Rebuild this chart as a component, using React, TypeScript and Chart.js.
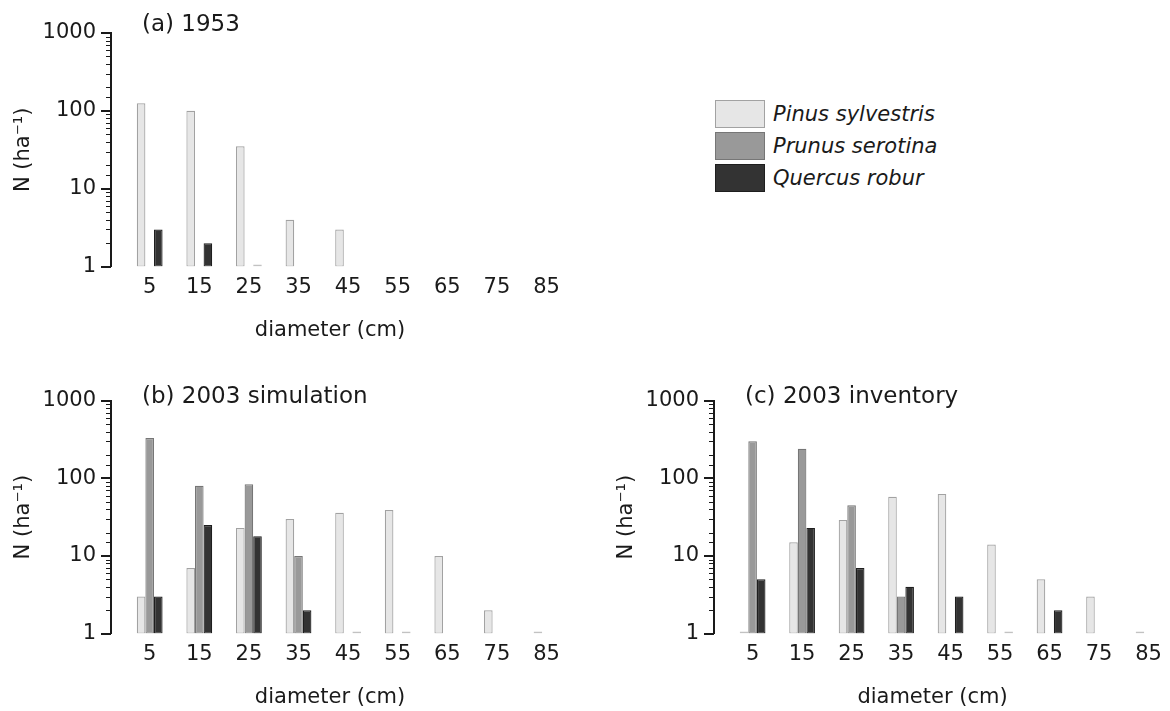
import React, { useEffect, useRef } from "react";
import { Chart, registerables } from "chart.js";

Chart.register(...registerables);

// ---------- data ----------
const diameters = [5, 15, 25, 35, 45, 55, 65, 75, 85];
const speciesNames = ["Pinus sylvestris", "Prunus serotina", "Quercus robur"];
const yTickLabels = [1, 10, 100, 1000];

const pinus1953 = [125, 100, 35, 4, 3, null, null, null, null];
const prunus1953 = [null, null, null, null, null, null, null, null, null];
const quercus1953 = [3, 2, 1, null, null, null, null, null, null];

const pinusSim2003 = [3, 7, 23, 30, 36, 39, 10, 2, 1];
const prunusSim2003 = [330, 80, 84, 10, null, null, null, null, null];
const quercusSim2003 = [3, 25, 18, 2, 1, 1, null, null, null];

const pinusInv2003 = [1, 15, 29, 58, 63, 14, 5, 3, 1];
const prunusInv2003 = [300, 240, 45, 3, null, null, null, null, null];
const quercusInv2003 = [5, 23, 7, 4, 3, 1, 2, null, null];

// ---------- styles ----------
const FONT = "DejaVu Sans";
const TEXT = "#1a1a1a";
const FILLS = ["#e6e6e6", "#999999", "#333333"];
const BORDERS = ["#a2a2a2", "#767676", "#1e1e1e"];
const ONE_LINE = "#c2c2c2";

Chart.defaults.font.family = FONT;
Chart.defaults.color = TEXT;

const isPow10 = (v: number) => {
  const l = Math.log10(v);
  return Math.abs(l - Math.round(l)) < 1e-9;
};

const yTickMarks = {
  id: "yTickMarks",
  afterDraw(chart: any) {
    const s = chart.scales.y;
    const ctx = chart.ctx;
    const x0 = chart.chartArea.left;
    ctx.save();
    ctx.strokeStyle = TEXT;
    s.ticks.forEach((t: any) => {
      const y = Math.round(s.getPixelForValue(t.value));
      const major = isPow10(t.value);
      ctx.lineWidth = major ? 2 : 1;
      ctx.beginPath();
      const yy = major ? y : y + 0.5;
      ctx.moveTo(x0 - (major ? 10 : 5), yy);
      ctx.lineTo(x0, yy);
      ctx.stroke();
    });
    ctx.restore();
  },
};

const makePanelTitle = (text: string, dy: number) => ({
  id: "panelTitle",
  afterDraw(chart: any) {
    const ctx = chart.ctx;
    ctx.save();
    ctx.font = `23px "${FONT}"`;
    ctx.fillStyle = TEXT;
    ctx.textAlign = "left";
    ctx.textBaseline = "middle";
    ctx.fillText(text, chart.chartArea.left + 31, chart.chartArea.top - dy);
    ctx.restore();
  },
});

type PanelProps = {
  title: string;
  series: (number | null)[][];
  left: number;
  top: number;
  width: number;
  height: number;
  padTop: number;
  padRight: number;
  titleDy: number;
};

function Panel({ title, series, left, top, width, height, padTop, padRight, titleDy }: PanelProps) {
  const ref = useRef<HTMLCanvasElement>(null);
  useEffect(() => {
    const canvas = ref.current!;
    const datasets = series.map((vals, k) => ({
      label: speciesNames[k],
      data: diameters.map((d, i) => ({ x: d, y: vals[i] })),
      backgroundColor: (c: any) => (c.raw && c.raw.y === 1 ? ONE_LINE : FILLS[k]),
      borderColor: (c: any) => (c.raw && c.raw.y === 1 ? ONE_LINE : BORDERS[k]),
      borderWidth: 1.2,
      borderSkipped: false,
      minBarLength: 2,
      barPercentage: 1,
      categoryPercentage: 0.52,
    }));
    const chart = new Chart(canvas, {
      type: "bar",
      data: { datasets } as any,
      options: {
        animation: false,
        responsive: false,
        devicePixelRatio: 1,
        layout: { padding: { top: padTop, right: padRight, left: 0, bottom: 0 } },
        plugins: {
          legend: { display: false },
          tooltip: { enabled: false },
          title: { display: false },
        },
        scales: {
          x: {
            type: "linear",
            min: -2.8,
            max: 85.5,
            offset: false,
            grid: { display: false, drawTicks: false },
            border: { display: false },
            afterBuildTicks: (s: any) => {
              s.ticks = diameters.map((v) => ({ value: v }));
            },
            ticks: {
              autoSkip: false,
              maxRotation: 0,
              padding: 8,
              font: { size: 21 },
              color: TEXT,
            },
            title: {
              display: true,
              text: "diameter (cm)",
              font: { size: 21 },
              color: TEXT,
              padding: { top: 10, bottom: 0 },
            },
          },
          y: {
            type: "logarithmic",
            min: 1,
            max: 1000,
            afterFit: (s: any) => {
              s.width = 111;
            },
            grid: { display: false, drawTicks: false },
            border: { display: true, color: TEXT, width: 2 },
            ticks: {
              autoSkip: false,
              padding: 15,
              font: { size: 21 },
              color: TEXT,
              callback: (v: any) => {
                const n = Number(v);
                return yTickLabels.some((t) => Math.abs(t - n) < 1e-6) ? String(Math.round(n)) : "";
              },
            },
            title: {
              display: true,
              text: "N (ha⁻¹)",
              font: { size: 21 },
              color: TEXT,
              padding: { top: 11.4, bottom: 0 },
            },
          },
        },
      } as any,
      plugins: [yTickMarks, makePanelTitle(title, titleDy)],
    });
    return () => chart.destroy();
  }, []);
  return (
    <canvas
      ref={ref}
      width={width}
      height={height}
      style={{ position: "absolute", left, top, width, height }}
    />
  );
}

function Legend() {
  return (
    <div style={{ position: "absolute", left: 715, top: 98 }}>
      {speciesNames.map((n, k) => (
        <div key={n} style={{ display: "flex", alignItems: "center", height: 32 }}>
          <div
            style={{
              width: 50,
              height: 28,
              boxSizing: "border-box",
              background: FILLS[k],
              border: `1px solid ${BORDERS[k]}`,
            }}
          />
          <span
            style={{
              marginLeft: 8,
              fontFamily: FONT,
              fontStyle: "italic",
              fontSize: 21,
              color: TEXT,
              whiteSpace: "nowrap",
            }}
          >
            {n}
          </span>
        </div>
      ))}
    </div>
  );
}

export default function App() {
  return (
    <div
      style={{
        position: "absolute",
        left: 0,
        top: 0,
        width: 1170,
        height: 711,
        background: "#ffffff",
        overflow: "hidden",
      }}
    >
      <Panel
        title="(a) 1953"
        series={[pinus1953, prunus1953, quercus1953]}
        left={0}
        top={0}
        width={600}
        height={343}
        padTop={33}
        padRight={51}
        titleDy={8}
      />
      <Panel
        title="(b) 2003 simulation"
        series={[pinusSim2003, prunusSim2003, quercusSim2003]}
        left={0}
        top={360}
        width={600}
        height={350}
        padTop={40.7}
        padRight={51}
        titleDy={4}
      />
      <Panel
        title="(c) 2003 inventory"
        series={[pinusInv2003, prunusInv2003, quercusInv2003]}
        left={603}
        top={360}
        width={567}
        height={350}
        padTop={40.7}
        padRight={18}
        titleDy={4}
      />
      <Legend />
    </div>
  );
}
